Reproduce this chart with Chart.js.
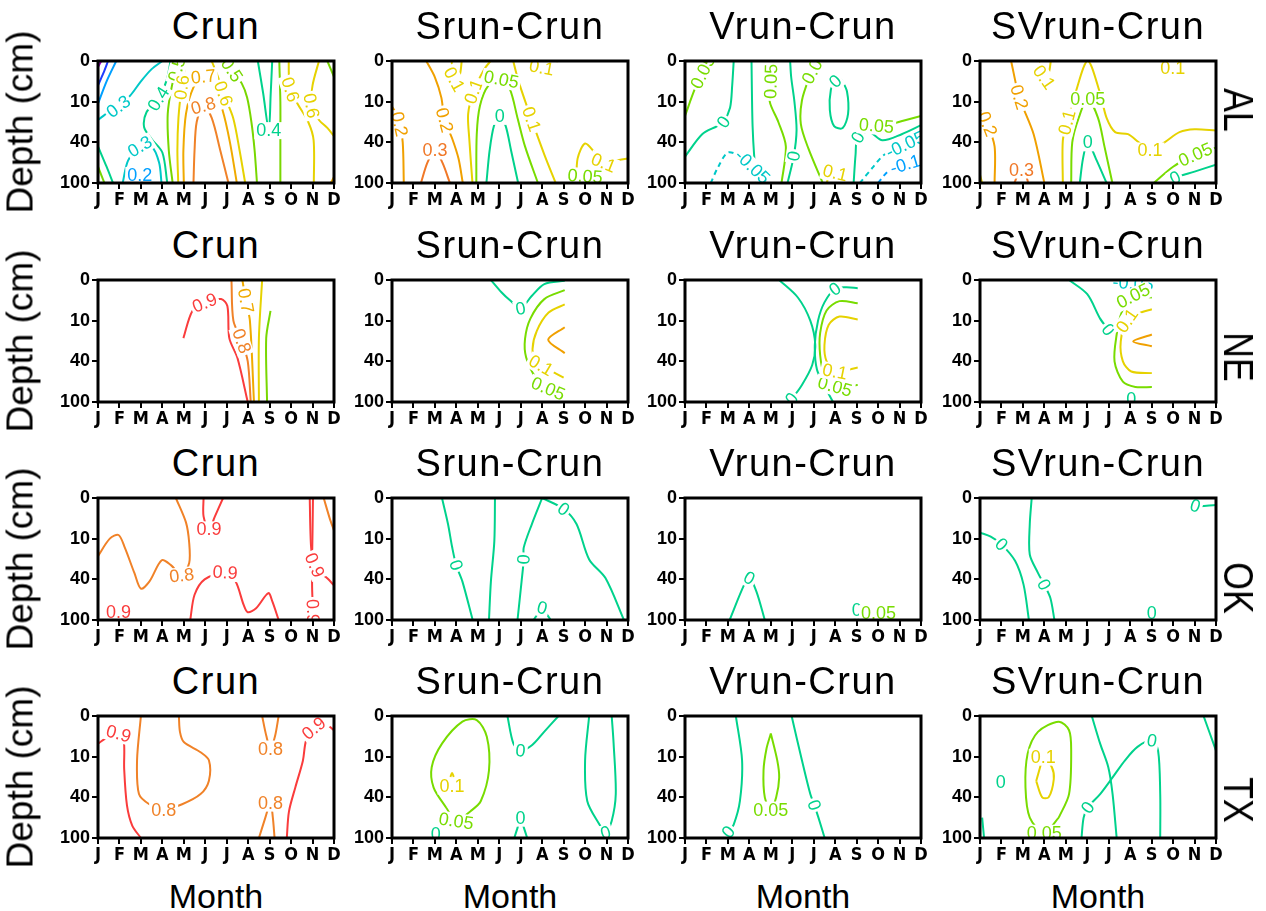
<!DOCTYPE html>
<html>
<head>
<meta charset="utf-8">
<title>Soil moisture by depth and month</title>
<script src="https://cdn.jsdelivr.net/npm/chart.js@4.4.1/dist/chart.umd.min.js"></script>
<style>
  html, body { margin: 0; padding: 0; background: #fff; }
  #page { position: relative; width: 1266px; height: 911px; overflow: hidden;
          font-family: "Liberation Sans", Arial, sans-serif; color: #000; }
  .panel { position: absolute; }
  .title { position: absolute; width: 236px; text-align: center; font-size: 38px; line-height: 38px; letter-spacing: 1.5px; white-space: nowrap; }
  .ylab { position: absolute; font-size: 37px; line-height: 37px; white-space: nowrap; transform: translate(-50%, -50%) rotate(-90deg); }
  .region { position: absolute; font-size: 42px; line-height: 42px; white-space: nowrap; transform: translate(-50%, -50%) rotate(90deg) scaleX(0.85); }
  .xlab { position: absolute; width: 236px; text-align: center; font-size: 34px; line-height: 34px; }
</style>
</head>
<body>
<div id="page"></div>
<script>
// axis categories
var months = ['J', 'F', 'M', 'A', 'M', 'J', 'J', 'A', 'S', 'O', 'N', 'D'];
var depthTicks = ['0', '10', '40', '100'];
var runTitles = ['Crun', 'Srun-Crun', 'Vrun-Crun', 'SVrun-Crun'];
var regions = ['AL', 'NE', 'OK', 'TX'];

// contour lines
// v = contour value, p = [month index, depth level index] points, at = point that carries the label
var alCrun = [
  {v: 0, p: [[0, 0.15], [0.15, 0]]},
  {v: 0.1, p: [[0, 0.6], [0.25, 0.3], [0.47, 0]]},
  {v: 0.2, p: [[0, 1.05], [0.4, 0.5], [0.85, 0]]},
  {v: 0.3, p: [[0, 1.45], [0.5, 1.25], [0.95, 1.12], [1.5, 0.85], [2.0, 0.5], [2.5, 0.2], [3.0, 0]], at: 2},
  {v: 0.2, p: [[1.4, 3], [1.6, 2.85], [1.95, 2.8], [2.3, 2.85], [2.5, 3]], at: 2},
  {v: 0.3, p: [[1.15, 3], [1.4, 2.45], [1.95, 2.1], [2.5, 2.1], [2.85, 2.5], [2.96, 3]], at: 2},
  {v: 0.4, p: [[3.23, 3], [3.0, 2.25], [2.5, 1.92], [2.15, 1.63], [2.26, 1.26], [2.81, 0.93], [3.2, 0.47], [3.38, 0]], at: 5},
  {v: 0.5, p: [[3.48, 3], [3.3, 2.2], [3.25, 1.3], [3.45, 0.6], [3.67, 0.2], [3.75, 0]], at: 4},
  {v: 0.6, p: [[3.74, 3], [3.7, 2.2], [3.75, 1.4], [3.9, 0.65], [4.1, 0]], at: 3},
  {v: 0.7, p: [[4.0, 3], [3.98, 2.2], [4.1, 1.3], [4.45, 0.65], [4.91, 0.38], [5.35, 0.6], [5.8, 1.2], [6.15, 2.0], [6.47, 3]], at: 4},
  {v: 0.8, p: [[4.45, 3], [4.5, 2.2], [4.6, 1.5], [4.91, 1.1], [5.3, 1.4], [5.7, 2.2], [6.08, 3]], at: 3},
  {v: 0.6, p: [[5.3, 0], [5.6, 0.4], [5.85, 0.8], [6.3, 1.4], [6.6, 2.2], [6.86, 3]], at: 2},
  {v: 0.5, p: [[6.0, 0], [6.24, 0.22], [6.7, 0.55], [6.95, 0.9], [7.15, 1.5], [7.3, 2.2], [7.41, 3]], at: 1},
  {v: 0.4, p: [[7.45, 0], [7.7, 0.8], [7.96, 1.7], [8.05, 0.8], [8.12, 0]], at: 2},
  {v: 0.5, p: [[8.45, 0], [8.5, 1.0], [8.5, 2.0], [8.5, 3]]},
  {v: 0.6, p: [[8.89, 0], [8.9, 0.4], [8.97, 0.7], [9.3, 1.05], [9.8, 1.5], [10.05, 1.95], [10.06, 3]], at: 2},
  {v: 0.6, p: [[10.3, 0], [10.0, 0.6], [9.95, 1.1], [10.3, 1.45], [10.7, 1.65], [11, 1.85]], at: 2},
  {v: 0.5, p: [[10.69, 0], [11, 0.39]]},
  {v: 0.7, p: [[10.85, 3], [11, 2.85]]},
  {v: 0.4, p: [[0, 2.1], [0.4, 2.6], [0.7, 3]]},
  {v: 0.5, p: [[0, 2.6], [0.3, 3]]}
];
var alSrun = [
  {v: 0.2, p: [[0, 1.12], [0.2, 1.3], [0.35, 1.55], [0.5, 2.0], [0.55, 3]], at: 2},
  {v: 0.2, p: [[1.6, 0], [2.0, 0.4], [2.3, 0.9], [2.45, 1.45], [2.8, 1.9], [3.1, 2.4], [3.3, 3]], at: 3},
  {v: 0.3, p: [[1.35, 3], [1.65, 2.5], [2.0, 2.2], [2.35, 2.5], [2.7, 3]], at: 2},
  {v: 0.1, p: [[2.78, 0], [2.9, 0.45], [3.15, 0.35], [3.25, 0]], at: 1},
  {v: 0.1, p: [[3.75, 3], [3.6, 1.9], [3.55, 1.3], [3.8, 0.75], [4.3, 0.2], [4.6, 0]], at: 3},
  {v: 0.05, p: [[3.93, 3], [3.95, 1.8], [4.1, 1.1], [4.5, 0.6], [5.1, 0.45], [5.5, 0.7], [5.85, 1.4], [6.2, 2.1], [6.8, 3]], at: 4},
  {v: 0, p: [[4.4, 3], [4.55, 2.2], [4.75, 1.6], [5.02, 1.35], [5.3, 1.6], [5.55, 2.2], [5.88, 3]], at: 3},
  {v: 0.1, p: [[5.65, 0], [5.9, 0.5], [6.5, 1.43], [7.1, 2.3], [7.63, 3]], at: 2},
  {v: 0.1, p: [[6.5, 0], [6.97, 0.16], [7.5, 0.1], [7.7, 0]], at: 1},
  {v: 0.1, p: [[8.6, 3], [8.65, 2.4], [9.0, 2.03], [9.45, 2.25], [9.86, 2.5], [10.4, 2.45], [11, 2.4]], at: 4},
  {v: 0.05, p: [[8.2, 3], [8.6, 2.87], [9.0, 2.83], [9.5, 2.9], [9.7, 3]], at: 2}
];
var alVrun = [
  {v: 0.05, p: [[0, 1.35], [0.45, 0.7], [0.83, 0.27], [1.1, 0]], at: 2},
  {v: 0, p: [[0, 2.35], [0.8, 1.8], [1.5, 1.6], [1.79, 1.5], [2.1, 1.15], [2.2, 0.6], [2.27, 0]], at: 3},
  {v: 0, p: [[3.1, 0], [3.12, 0.8], [3.15, 1.6], [3.22, 2.3], [3.35, 3]]},
  {v: -0.05, p: [[1.2, 3], [1.55, 2.6], [2.0, 2.25], [2.6, 2.35], [3.15, 2.6], [3.6, 2.85], [3.8, 3]], at: 4},
  {v: 0.05, p: [[4.0, 0], [4.0, 0.5], [3.95, 1.0], [4.35, 1.5], [4.7, 2.1], [4.5, 3]], at: 1},
  {v: 0, p: [[4.78, 3], [5.07, 2.34], [5.2, 1.7], [5.1, 1.0], [4.95, 0.4], [4.9, 0]], at: 1},
  {v: 0.05, p: [[6.2, 0], [6.03, 0.15], [5.8, 0.4], [5.45, 0.97], [5.4, 1.55], [5.75, 2.15], [6.42, 3]], at: 1},
  {v: 0.1, p: [[6.6, 3], [6.8, 2.75], [7.0, 2.75], [7.2, 2.8], [7.3, 3]], at: 2},
  {v: 0, p: [[7.3, 0.45], [7.0, 0.5], [6.8, 0.7], [6.75, 1.2], [6.95, 1.6], [7.35, 1.65], [7.6, 1.3], [7.55, 0.75], [7.3, 0.45]], at: 1},
  {v: 0, p: [[7.86, 3], [7.95, 2.3], [8.05, 1.88], [8.6, 1.75], [9.2, 1.95], [10.1, 1.8], [11, 1.58]], at: 2},
  {v: 0.05, p: [[8.3, 1.5], [8.92, 1.59], [9.6, 1.55], [10.3, 1.45], [11, 1.35]], at: 1},
  {v: -0.05, p: [[8.15, 3], [8.73, 2.63], [9.3, 2.3], [10.27, 2.05], [11, 1.88]], at: 3},
  {v: -0.1, p: [[9.0, 3], [9.5, 2.7], [10.27, 2.54], [11, 2.46]], at: 2}
];
var alSVrun = [
  {v: 0.2, p: [[0, 1.2], [0.35, 1.55], [0.68, 2.1], [0.68, 3]], at: 1},
  {v: 0.1, p: [[0, 2.8], [0.1, 3]]},
  {v: 0.2, p: [[1.45, 0], [1.83, 0.89], [2.5, 1.8], [3.0, 3]], at: 1},
  {v: 0.1, p: [[2.8, 0], [2.99, 0.4], [3.2, 0.3], [3.3, 0]], at: 1},
  {v: 0.3, p: [[1.6, 3], [1.8, 2.75], [1.93, 2.67], [2.1, 2.75], [2.25, 3]], at: 2},
  {v: 0.1, p: [[3.86, 3], [3.86, 1.96], [4.05, 1.51], [4.44, 0.8], [5.02, 0], [5.6, 0.8], [5.9, 1.4], [6.3, 1.75], [6.9, 1.8], [7.4, 2.0], [7.92, 2.2], [8.6, 2.0], [9.3, 1.75], [10.0, 1.68], [11, 1.71]], at: [2, 10]},
  {v: 0.05, p: [[4.25, 3], [4.3, 2.0], [4.6, 1.4], [5.02, 0.93], [5.5, 1.4], [5.8, 2.1], [6.17, 3]], at: 3},
  {v: 0, p: [[4.65, 3], [4.8, 2.4], [5.02, 2.0], [5.4, 2.4], [5.9, 3]], at: 2},
  {v: 0.05, p: [[8.1, 3], [9.0, 2.6], [10.04, 2.3], [11, 2.13]], at: 2},
  {v: 0, p: [[8.9, 3], [9.1, 2.87], [10, 2.72], [11, 2.55]], at: 1},
  {v: 0.1, p: [[8.5, 0], [8.98, 0.18], [9.5, 0]], at: 1}
];
var neCrun = [
  {v: 0.9, p: [[3.98, 1.43], [4.4, 0.76], [4.97, 0.56], [5.74, 0.47], [6.03, 0.64], [6.12, 1.43], [6.5, 1.92], [6.98, 3]], at: 2},
  {v: 0.8, p: [[6.22, 0], [6.31, 1.0], [6.7, 1.5], [6.98, 2.0], [7.12, 3]], at: 2},
  {v: 0.7, p: [[6.73, 0], [6.89, 0.51], [7.08, 1.0], [7.27, 3]], at: 1},
  {v: 0.6, p: [[7.65, 0], [7.5, 1.43], [7.5, 3]]},
  {v: 0.5, p: [[8.04, 0.76], [7.84, 1.43], [7.88, 3]]}
];
var neSrun = [
  {v: 0, p: [[4.61, 0], [5.1, 0.3], [5.5, 0.5], [5.99, 0.7], [6.5, 0.4], [7.1, 0.1], [8.05, 0.02]], at: 3},
  {v: 0.05, p: [[8.05, 0.25], [7.1, 0.47], [6.45, 0.95], [6.2, 1.45], [6.25, 1.9], [6.7, 2.4], [7.28, 2.67], [8.05, 2.7]], at: 6},
  {v: 0.1, p: [[8.05, 0.6], [7.3, 0.8], [6.75, 1.25], [6.55, 1.7], [6.7, 2.0], [6.95, 2.1], [8.0, 2.4]], at: 5},
  {v: 0.2, p: [[8.05, 1.16], [7.28, 1.47], [8.05, 1.8]]}
];
var neVrun = [
  {v: 0, p: [[4.39, 0], [5.26, 0.43], [5.84, 1.0], [6.07, 1.59], [5.93, 2.09], [5.45, 2.58], [4.97, 2.92], [4.78, 3]], at: 6},
  {v: 0, p: [[8.05, 0.2], [7.5, 0.18], [6.99, 0.22], [6.5, 0.55], [6.2, 1.0], [6.05, 1.6], [6.15, 2.2], [6.5, 2.6], [6.9, 3]], at: 2},
  {v: 0.05, p: [[8.05, 0.57], [7.2, 0.52], [6.6, 0.75], [6.3, 1.3], [6.3, 1.85], [6.5, 2.35], [6.99, 2.62], [8.05, 2.58]], at: 6},
  {v: 0.1, p: [[8.05, 0.97], [7.2, 0.9], [6.7, 1.1], [6.5, 1.6], [6.6, 2.0], [6.99, 2.25], [8.05, 2.15]], at: 5}
];
var neSVrun = [
  {v: 0, p: [[4.15, 0], [5.0, 0.35], [5.6, 0.95], [5.98, 1.22]], at: 3},
  {v: 0, p: [[6.95, 3], [7.05, 2.92], [7.15, 3]], at: 1},
  {v: -0.05, p: [[6.6, 0], [7.14, 0.08], [8.01, 0.05]], at: 1},
  {v: 0.05, p: [[8.01, 0.43], [7.14, 0.39], [6.6, 0.8], [6.37, 1.34], [6.27, 2.0], [6.66, 2.5], [7.24, 2.63], [8.01, 2.63]], at: 1},
  {v: 0.1, p: [[8.01, 0.72], [7.5, 0.8], [6.85, 1.0], [6.56, 1.51], [6.66, 2.0], [7.05, 2.25], [8.01, 2.29]], at: 2},
  {v: 0.2, p: [[8.01, 1.34], [7.14, 1.51], [8.01, 1.63]]}
];
var okCrun = [
  {v: 0.8, p: [[0, 1.43], [0.55, 1.0], [0.96, 0.91], [1.25, 1.22], [1.7, 1.85], [2.0, 2.23], [2.4, 2.05], [2.97, 1.53], [3.4, 1.65], [3.9, 1.9], [4.25, 1.6], [4.25, 1.1], [4.1, 0.6], [3.63, 0]], at: 9},
  {v: 0.9, p: [[4.92, 0], [4.92, 0.45], [5.17, 0.77], [5.45, 0.45], [5.83, 0]], at: 2},
  {v: 0.9, p: [[4.3, 3], [4.5, 2.38], [4.97, 2.0], [5.93, 1.83], [6.41, 2.05], [6.79, 2.63], [6.98, 2.81], [7.37, 2.71], [7.94, 2.34], [8.13, 2.55], [8.42, 3]], at: 3},
  {v: 0.9, p: [[0.5, 3], [0.96, 2.8], [1.4, 3]], at: 1},
  {v: 0.9, p: [[9.87, 0], [9.9, 0.8], [9.95, 1.3], [10.1, 1.65], [10.4, 1.85], [10.7, 1.98], [11, 2.15]], at: 3},
  {v: 0.9, p: [[10.02, 0], [10.0, 0.8], [9.98, 1.5], [9.98, 2.2], [10.02, 2.79], [10.04, 3]], at: 4},
  {v: 0.8, p: [[10.52, 0], [10.8, 0.5], [11, 0.8]]}
];
var okSrun = [
  {v: 0, p: [[2.33, 0], [2.61, 0.64], [2.8, 1.2], [2.99, 1.65], [3.28, 2.05], [3.76, 3]], at: 3},
  {v: 0, p: [[4.8, 0], [4.77, 1.06], [4.61, 2.05], [4.52, 3]]},
  {v: 0, p: [[7.0, 0], [6.52, 0.64], [6.14, 1.22], [6.14, 1.51], [6.04, 2.05], [5.85, 3]], at: 3},
  {v: 0, p: [[7.0, 0], [8.0, 0.27], [8.6, 0.64], [9.19, 1.51], [9.95, 1.97], [10.81, 3]], at: 1},
  {v: 0, p: [[6.6, 3], [6.85, 2.8], [7.0, 2.7], [7.2, 2.85], [7.4, 3]], at: 2}
];
var okVrun = [
  {v: 0, p: [[2.08, 3], [2.76, 2.13], [3.0, 1.97], [3.33, 2.3], [3.72, 3]], at: 2},
  {v: 0, p: [[7.9, 3], [8.0, 2.75], [8.1, 3]], at: 1},
  {v: 0.05, p: [[8.3, 3], [9.02, 2.83], [9.8, 3]], at: 1}
];
var okSVrun = [
  {v: 0, p: [[0, 0.85], [0.5, 0.95], [1.0, 1.14], [1.64, 1.55], [2.03, 2.13], [2.28, 3]], at: 2},
  {v: 0, p: [[2.41, 0], [2.32, 0.64], [2.32, 1.39], [2.7, 1.84], [2.99, 2.13], [3.28, 2.46], [3.47, 3]], at: 4},
  {v: 0, p: [[7.85, 3], [8.01, 2.83], [8.15, 3]], at: 1},
  {v: 0, p: [[9.95, 0], [10.04, 0.19], [11, 0.17]], at: 1}
];
var txCrun = [
  {v: 0.9, p: [[0, 0.68], [0.5, 0.5], [0.96, 0.43], [1.2, 0.6], [1.22, 1.3], [1.35, 2.2], [1.6, 2.7], [2.0, 3]], at: 2},
  {v: 0.8, p: [[2.0, 0], [1.82, 1.09], [1.91, 1.92], [2.39, 2.17], [3.06, 2.3], [3.92, 2.17], [4.78, 1.92], [5.17, 1.59], [5.17, 1.09], [4.78, 0.89], [4.0, 0.64], [3.82, 0.39], [3.77, 0]], at: 4},
  {v: 0.8, p: [[7.65, 0], [7.85, 0.5], [8.04, 0.8], [8.25, 0.5], [8.42, 0]], at: 2},
  {v: 0.8, p: [[7.5, 3], [7.8, 2.5], [8.04, 2.13], [8.15, 2.5], [8.23, 3]], at: 2},
  {v: 0.9, p: [[8.8, 3], [8.9, 2.35], [9.2, 1.75], [9.55, 1.1], [9.7, 0.6], [10.05, 0.3], [10.6, 0.2], [11, 0.35]], at: 5}
];
var txSrun = [
  {v: 0.05, p: [[2.52, 2.25], [1.94, 1.76], [1.85, 1.26], [2.33, 0.68], [3.28, 0.14], [3.95, 0.1], [4.42, 0.51], [4.52, 1.34], [4.14, 2.09], [3.66, 2.34], [2.99, 2.58], [2.52, 2.25]], at: 10},
  {v: 0.1, p: [[2.72, 1.5], [2.8, 1.4], [2.88, 1.5]]},
  {v: 0.1, p: [[2.8, 1.71]], at: 0},
  {v: 0, p: [[1.85, 3], [2.04, 2.9], [2.2, 3]], at: 1},
  {v: 0, p: [[5.38, 0], [5.66, 0.68], [5.99, 0.85], [6.52, 0.72], [7.09, 0.39], [7.76, 0]], at: 2},
  {v: 0, p: [[5.7, 3], [5.85, 2.75], [5.99, 2.5], [6.15, 2.75], [6.3, 3]], at: 2},
  {v: 0, p: [[9.19, 0], [9.0, 1.09], [9.1, 2.09], [9.67, 2.67], [9.95, 2.87], [10.24, 2.58], [10.43, 1.92], [10.33, 0.68], [10.24, 0]], at: 4}
];
var txVrun = [
  {v: 0, p: [[2.37, 0], [2.66, 1.09], [2.56, 2.09], [2.27, 2.67], [2.02, 2.85], [1.79, 3]], at: 4},
  {v: 0.05, p: [[4.0, 0.43], [4.3, 1.09], [4.39, 1.51], [4.25, 2.0], [4.0, 2.3], [3.72, 2.0], [3.66, 1.34], [3.8, 0.8], [4.0, 0.43]], at: 4},
  {v: 0, p: [[4.97, 0], [5.45, 1.09], [5.84, 1.92], [6.03, 2.19], [6.22, 2.5], [6.51, 3]], at: 3}
];
var txSVrun = [
  {v: 0.05, p: [[3.67, 2.5], [4.15, 1.92], [4.25, 0.85], [4.15, 0.35], [3.67, 0.14], [2.7, 0.39], [2.22, 0.93], [2.12, 1.76], [2.32, 2.5], [2.99, 2.87], [3.67, 2.5]], at: 9},
  {v: 0.1, p: [[2.62, 1.6], [2.8, 1.26], [2.95, 1.0], [3.35, 1.26], [3.44, 1.55], [3.2, 2.0], [2.9, 2.0], [2.62, 1.6]], at: 2},
  {v: 0, p: [[0.97, 1.63]], at: 0},
  {v: 0, p: [[0.1, 2.5], [0.19, 3]]},
  {v: 0, p: [[5.21, 0], [5.6, 0.68], [5.98, 1.26], [6.18, 1.92], [6.37, 3]]},
  {v: 0, p: [[4.73, 3], [4.83, 2.5], [5.02, 2.25], [5.6, 1.92], [6.18, 1.51], [6.76, 1.09], [7.34, 0.76], [8.01, 0.6], [8.3, 0.85], [8.4, 1.92], [8.4, 3]], at: [2, 7]},
  {v: 0, p: [[10.42, 0], [11, 0.85]]}
];

var panelData = [
  [alCrun, alSrun, alVrun, alSVrun],
  [neCrun, neSrun, neVrun, neSVrun],
  [okCrun, okSrun, okVrun, okSVrun],
  [txCrun, txSrun, txVrun, txSVrun]
];

// colours: first column is the Crun field itself, the others are differences
var crunColors = {'0': '#a000c8', '0.1': '#1e3cff', '0.2': '#00a0ff', '0.3': '#00c8c8', '0.4': '#00d28c',
  '0.5': '#78d700', '0.6': '#e6d200', '0.7': '#f0aa00', '0.8': '#f08228', '0.9': '#fa3c3c'};
var diffColors = {'-0.1': '#00a0ff', '-0.05': '#00c8c8', '0': '#00d28c', '0.05': '#78dc00',
  '0.1': '#e6d200', '0.2': '#f0a000', '0.3': '#f07828'};

function lineColor(isCrun, v) {
  return (isCrun ? crunColors : diffColors)[String(v)] || '#000';
}

// page layout (plot areas)
var plotX = [98, 392, 685, 980];
var plotY = [61, 280, 498, 716];
var plotW = 236, plotH = 122;
var padL = 60, padT = 14, padR = 14, padB = 30;
var regionY = [110, 357, 588, 800];

var monthFont = {family: '"Liberation Sans Narrow", "DejaVu Sans Condensed", "Liberation Sans", sans-serif', size: 18, weight: 'bold'};
var depthFont = {family: '"Liberation Sans", Arial, sans-serif', size: 18, weight: 'bold'};

//labels along the lines + the box round the plot
function contourLabels(lines, isCrun) {
  return {
    id: 'contourLabels',
    afterDatasetsDraw: function (chart) {
      var ctx = chart.ctx, a = chart.chartArea;
      var xs = chart.scales.x, ys = chart.scales.y;
      ctx.save();
      ctx.beginPath();
      ctx.rect(a.left, a.top, a.right - a.left, a.bottom - a.top);
      ctx.clip();
      ctx.font = '18px "Liberation Sans", Arial, sans-serif';
      ctx.textAlign = 'center';
      ctx.textBaseline = 'middle';
      lines.forEach(function (c) {
        if (c.at === undefined) return;
        [].concat(c.at).forEach(function (k) {
          var px = function (i) { return xs.getPixelForValue(c.p[i][0]); };
          var py = function (i) { return ys.getPixelForValue(c.p[i][1]); };
          var i0 = Math.max(k - 1, 0), i1 = Math.min(k + 1, c.p.length - 1);
          var ang = i0 === i1 ? 0 : Math.atan2(py(i1) - py(i0), px(i1) - px(i0));
          if (ang > Math.PI / 2) ang -= Math.PI;
          if (ang < -Math.PI / 2) ang += Math.PI;
          var txt = String(c.v);
          var w = ctx.measureText(txt).width;
          ctx.save();
          ctx.translate(px(k), py(k));
          ctx.rotate(ang);
          ctx.fillStyle = '#fff';
          ctx.fillRect(-w / 2 - 2, -8, w + 4, 17);
          ctx.fillStyle = lineColor(isCrun, c.v);
          ctx.fillText(txt, 0, 1);
          ctx.restore();
        });
      });
      ctx.restore();
      ctx.save();
      ctx.lineWidth = 3;
      ctx.strokeStyle = '#000';
      ctx.strokeRect(a.left, a.top, a.right - a.left, a.bottom - a.top);
      ctx.restore();
    }
  };
}

function makePanel(r, c) {
  var page = document.getElementById('page');
  var lines = panelData[r][c];
  var isCrun = c === 0;
  var holder = document.createElement('div');
  holder.className = 'panel';
  holder.style.left = (plotX[c] - padL) + 'px';
  holder.style.top = (plotY[r] - padT) + 'px';
  var cv = document.createElement('canvas');
  cv.width = padL + plotW + padR;
  cv.height = padT + plotH + padB;
  cv.style.width = cv.width + 'px';
  cv.style.height = cv.height + 'px';
  holder.appendChild(cv);
  page.appendChild(holder);

  var grid = {drawOnChartArea: false, drawTicks: true, tickLength: 6, lineWidth: 2, color: '#000'};
  new Chart(cv, {
    type: 'scatter',
    data: {
      datasets: lines.filter(function (l) { return l.p.length > 1; }).map(function (l) {
        return {
          data: l.p.map(function (q) { return {x: q[0], y: q[1]}; }),
          showLine: true,
          borderColor: lineColor(isCrun, l.v),
          borderWidth: 2,
          borderDash: l.v < 0 ? [5, 4] : [],
          pointRadius: 0,
          tension: 0.3,
          fill: false
        };
      })
    },
    options: {
      responsive: false,
      animation: false,
      events: [],
      layout: {padding: {left: 0, right: padR, top: padT, bottom: 0}},
      plugins: {legend: {display: false}, tooltip: {enabled: false}},
      scales: {
        x: {
          type: 'linear', min: 0, max: 11,
          border: {display: false},
          grid: grid,
          ticks: {stepSize: 1, autoSkip: false, maxRotation: 0, padding: 1, color: '#000', font: monthFont,
            callback: function (v) { return months[v]; }},
          afterFit: function (s) { s.height = padB; }
        },
        y: {
          type: 'linear', min: 0, max: 3, reverse: true,
          border: {display: false},
          grid: grid,
          ticks: {stepSize: 1, padding: 2, color: '#000', font: depthFont,
            callback: function (v) { return depthTicks[v]; }},
          afterFit: function (s) { s.width = padL; }
        }
      }
    },
    plugins: [contourLabels(lines, isCrun)]
  });

  var t = document.createElement('div');
  t.className = 'title';
  t.textContent = runTitles[c];
  t.style.left = plotX[c] + 'px';
  t.style.top = (plotY[r] - 54) + 'px';
  page.appendChild(t);
}

function addText(cls, txt, x, y) {
  var d = document.createElement('div');
  d.className = cls;
  d.textContent = txt;
  d.style.left = x + 'px';
  d.style.top = y + 'px';
  document.getElementById('page').appendChild(d);
}

for (var r = 0; r < 4; r++) {
  for (var c = 0; c < 4; c++) makePanel(r, c);
  addText('ylab', 'Depth (cm)', 20, plotY[r] + plotH / 2);
  addText('region', regions[r], 1238, regionY[r]);
}
for (var c2 = 0; c2 < 4; c2++) {
  addText('xlab', 'Month', plotX[c2], 879);
}
</script>
</body>
</html>
